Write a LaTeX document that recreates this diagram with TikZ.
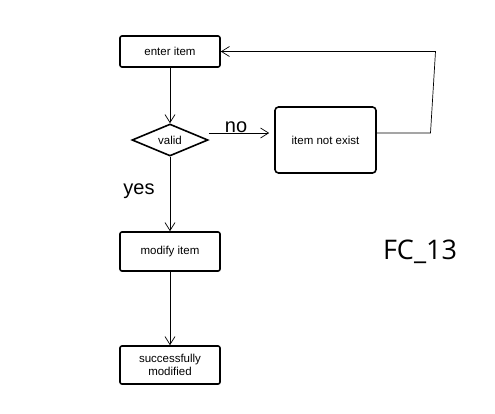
\documentclass[tikz,border=0pt]{standalone}
\usepackage{fontspec}
\setmainfont{Liberation Sans}
\newfontfamily\labelfont{Open Sans}
\usetikzlibrary{shapes.geometric,arrows.meta}
\begin{document}
\begin{tikzpicture}[x=1pt,y=-1pt,
    box/.style={draw, line width=1.6pt, rounded corners=2pt, minimum width=100pt, minimum height=31pt, font=\fontsize{11.5}{13}\selectfont, align=center},
    decision/.style={draw, diamond, line width=1.6pt, aspect=2.4, inner sep=0pt, minimum width=76pt, minimum height=32pt, font=\fontsize{11.5}{13}\selectfont},
    flow/.style={-{Straight Barb[length=8pt,width=10pt]}, line width=0.7pt},
    biglabel/.style={font=\fontsize{20}{23}\selectfont}]
    \useasboundingbox (0,0) rectangle (495,413);

    % Main column
    \node[box] (enter) at (170,51.5) {enter item};
    \node[decision] (valid) at (170,140) {valid};
    \node[box, minimum height=39pt] (modify) at (170,251.5) {modify item};
    \node[box, minimum height=38pt, inner sep=1pt] (done) at (170,365) {successfully\\modified};

    % Failure branch
    \node[box, rounded corners=3.5pt, minimum width=101pt, minimum height=66pt] (missing) at (325.5,140) {item not exist};

    \draw[flow] (enter) -- (valid);
    \draw[flow] (valid) -- (modify);
    \draw[flow] (modify) -- (done);

    \coordinate (nostart) at ([yshift=7pt]valid.east);
    \draw[flow] (nostart) -- ([xshift=-5pt]nostart -| missing.west);

    % Loop back
    \coordinate (backlow) at (430.5,133);
    \coordinate (backhigh) at (435.5,51.5);
    \draw[line width=0.7pt] (missing.east |- backlow) -- (backlow) -- (backhigh);
    \draw[flow] (backhigh) -- (enter.east);

    \node[biglabel] (no) at (236,127) {no};
    \node[biglabel] (yes) at (139,191) {yes};

    \node[font=\labelfont\fontsize{27}{30}\selectfont] (tag) at (420,252) {FC\_13};
\end{tikzpicture}
\end{document}
